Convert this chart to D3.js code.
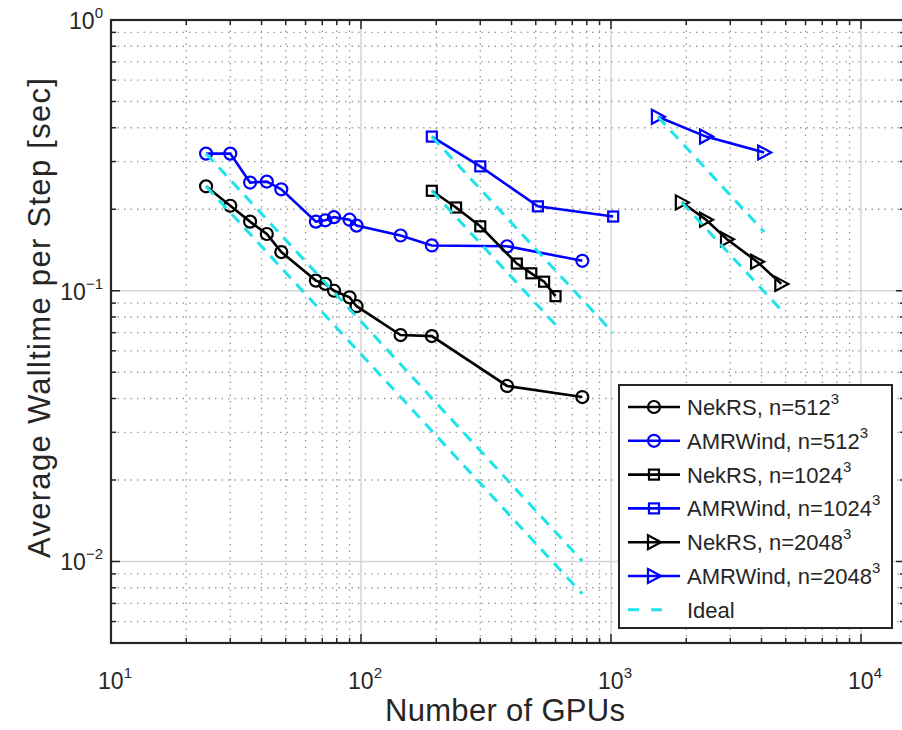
<!DOCTYPE html>
<html>
<head>
<meta charset="utf-8">
<script src="https://cdn.jsdelivr.net/npm/d3@7"></script>
<style>
  body { margin: 0; background: #fff; }
  text { font-family: "Liberation Sans", Arial, Helvetica, sans-serif; fill: #262626; }
</style>
</head>
<body>
<svg id="chart"></svg>
<script>
// Data
const nek512Gpus = [24, 30, 36, 42, 48, 66, 72, 78, 90, 96, 144, 192, 384, 768];
const nek512Time = [0.243, 0.206, 0.180, 0.162, 0.139, 0.109, 0.106, 0.100, 0.0946, 0.0877, 0.0686, 0.068, 0.0445, 0.0405];
const amr512Gpus = [24, 30, 36, 42, 48, 66, 72, 78, 90, 96, 144, 192, 384, 768];
const amr512Time = [0.321, 0.321, 0.251, 0.253, 0.237, 0.180, 0.182, 0.187, 0.183, 0.174, 0.160, 0.147, 0.146, 0.129];
const nek1024Gpus = [192, 240, 300, 420, 480, 540, 600];
const nek1024Time = [0.234, 0.203, 0.173, 0.126, 0.116, 0.108, 0.0955];
const amr1024Gpus = [192, 300, 510, 1020];
const amr1024Time = [0.371, 0.288, 0.205, 0.188];
const nek2048Gpus = [1920, 2400, 2910, 3840, 4800];
const nek2048Time = [0.212, 0.183, 0.155, 0.128, 0.106];
const amr2048Gpus = [1540, 2400, 4100];
const amr2048Time = [0.439, 0.371, 0.324];

const legendLabels = ["NekRS, n=512", "AMRWind, n=512", "NekRS, n=1024", "AMRWind, n=1024", "NekRS, n=2048", "AMRWind, n=2048", "Ideal"];

const width = 902, height = 730;
const margin = { top: 20, left: 111, bottom: 643 };

const series = [
    { x: nek512Gpus, y: nek512Time, color: "#000000", marker: "circle" },
    { x: amr512Gpus, y: amr512Time, color: "#0000ff", marker: "circle" },
    { x: nek1024Gpus, y: nek1024Time, color: "#000000", marker: "square" },
    { x: amr1024Gpus, y: amr1024Time, color: "#0000ff", marker: "square" },
    { x: nek2048Gpus, y: nek2048Time, color: "#000000", marker: "triangle" },
    { x: amr2048Gpus, y: amr2048Time, color: "#0000ff", marker: "triangle" }
];
const idealColor = "#1ee3ea";

// Scales
const xScale = d3.scaleLog().domain([10, 15000]).range([margin.left, margin.left + 250 * Math.log10(1500)]);
const yScale = d3.scaleLog().domain([0.005, 1]).range([margin.bottom, margin.top]);
const x0 = xScale.range()[0], x1 = xScale.range()[1];
const y0 = yScale.range()[0], y1 = yScale.range()[1];

const svg = d3.select("#chart").attr("width", width).attr("height", height);

// tick values
const xMajor = [10, 100, 1000, 10000];
const xMinor = [];
[10, 100, 1000, 10000].forEach(d => { for (let k = 2; k <= 9; k++) if (d * k <= 15000) xMinor.push(d * k); });
const yMajor = [0.01, 0.1, 1];
const yMinor = [];
[0.001, 0.01, 0.1].forEach(d => { for (let k = 2; k <= 9; k++) if (d * k >= 0.005 && d * k < 1) yMinor.push(d * k); });

// Grid
const grid = svg.append("g");
grid.selectAll(".xminor").data(xMinor).enter().append("line")
    .attr("x1", d => xScale(d)).attr("x2", d => xScale(d))
    .attr("y1", y0).attr("y2", y1)
    .attr("stroke", "#9a9a9a").attr("stroke-width", 1.3).attr("stroke-dasharray", "1.5,5");
grid.selectAll(".yminor").data(yMinor).enter().append("line")
    .attr("x1", x0).attr("x2", x1)
    .attr("y1", d => yScale(d)).attr("y2", d => yScale(d))
    .attr("stroke", "#9a9a9a").attr("stroke-width", 1.3).attr("stroke-dasharray", "1.5,5");
grid.selectAll(".xmajor").data(xMajor.slice(1)).enter().append("line")
    .attr("x1", d => xScale(d)).attr("x2", d => xScale(d))
    .attr("y1", y0).attr("y2", y1)
    .attr("stroke", "#d4d4d4").attr("stroke-width", 1.5);
grid.selectAll(".ymajor").data(yMajor.slice(0, 2)).enter().append("line")
    .attr("x1", x0).attr("x2", x1)
    .attr("y1", d => yScale(d)).attr("y2", d => yScale(d))
    .attr("stroke", "#d4d4d4").attr("stroke-width", 1.5);

// Ticks (inward, on all four sides)
const ticks = svg.append("g").attr("stroke", "#262626").attr("stroke-width", 1.5);
xMajor.concat(xMinor).forEach(d => {
    const len = xMajor.includes(d) ? 9 : 5;
    ticks.append("line").attr("x1", xScale(d)).attr("x2", xScale(d)).attr("y1", y0).attr("y2", y0 - len);
    ticks.append("line").attr("x1", xScale(d)).attr("x2", xScale(d)).attr("y1", y1).attr("y2", y1 + len);
});
yMajor.concat(yMinor).forEach(d => {
    const len = yMajor.includes(d) ? 9 : 5;
    ticks.append("line").attr("y1", yScale(d)).attr("y2", yScale(d)).attr("x1", x0).attr("x2", x0 + len);
    ticks.append("line").attr("y1", yScale(d)).attr("y2", yScale(d)).attr("x1", x1).attr("x2", x1 - len);
});

// Box
svg.append("rect")
    .attr("x", x0).attr("y", y1)
    .attr("width", x1 - x0).attr("height", y0 - y1)
    .attr("fill", "none").attr("stroke", "#262626").attr("stroke-width", 2.2);

// Tick labels
function powLabel(sel, exp) {
    sel.append("tspan").text("10");
    sel.append("tspan").attr("dy", -11).style("font-size", "15px").text(exp);
}
xMajor.forEach(d => {
    const t = svg.append("text")
        .attr("x", xScale(d) + 4).attr("y", 689)
        .attr("text-anchor", "middle")
        .style("font-size", "23px");
    powLabel(t, String(Math.round(Math.log10(d))));
});
yMajor.forEach(d => {
    const e = Math.round(Math.log10(d));
    const t = svg.append("text")
        .attr("x", 103).attr("y", yScale(d) + 9)
        .attr("text-anchor", "end")
        .style("font-size", "23px");
    powLabel(t, e < 0 ? "\u2212" + (-e) : String(e));
});

// Axis labels
svg.append("text")
    .attr("x", 505).attr("y", 721)
    .attr("text-anchor", "middle")
    .style("font-size", "31px")
    .attr("textLength", 240)
    .text("Number of GPUs");
svg.append("text")
    .attr("transform", "rotate(-90)")
    .attr("x", -318).attr("y", 50)
    .attr("text-anchor", "middle")
    .style("font-size", "31px")
    .attr("textLength", 480)
    .text("Average Walltime per Step [sec]");

// Markers
function drawMarker(g, type, cx, cy, color) {
    if (type === "circle") {
        g.append("circle").attr("cx", cx).attr("cy", cy).attr("r", 6)
            .attr("fill", "none").attr("stroke", color).attr("stroke-width", 2.2);
    } else if (type === "square") {
        g.append("rect").attr("x", cx - 5).attr("y", cy - 5).attr("width", 10).attr("height", 10)
            .attr("fill", "none").attr("stroke", color).attr("stroke-width", 2.2);
    } else {
        g.append("path").attr("d", `M${cx - 6},${cy - 7}L${cx + 7},${cy}L${cx - 6},${cy + 7}Z`)
            .attr("fill", "none").attr("stroke", color).attr("stroke-width", 2.2);
    }
}

const line = d3.line().x(d => xScale(d[0])).y(d => yScale(d[1]));
const plot = svg.append("g");

series.forEach(s => {
    const pts = s.x.map((x, i) => [x, s.y[i]]);
    plot.append("path")
        .datum(pts)
        .attr("fill", "none")
        .attr("stroke", s.color)
        .attr("stroke-width", 2.6)
        .attr("d", line);
    pts.forEach(p => drawMarker(plot, s.marker, xScale(p[0]), yScale(p[1]), s.color));
});

// Ideal scaling lines from each series' first point
series.forEach(s => {
    const xa = s.x[0], ya = s.y[0], xb = s.x[s.x.length - 1];
    plot.append("path")
        .datum([[xa, ya], [xb, ya * xa / xb]])
        .attr("fill", "none")
        .attr("stroke", idealColor)
        .attr("stroke-width", 3)
        .attr("stroke-dasharray", "11,8")
        .attr("d", line);
});

// Legend
const legend = svg.append("g");
legend.append("rect")
    .attr("x", 619).attr("y", 385).attr("width", 273).attr("height", 243)
    .attr("fill", "#fff").attr("stroke", "#262626").attr("stroke-width", 2);
legendLabels.forEach((label, i) => {
    const cy = 407 + i * 33.8;
    if (i < series.length) {
        const s = series[i];
        legend.append("line").attr("x1", 628).attr("x2", 680).attr("y1", cy).attr("y2", cy)
            .attr("stroke", s.color).attr("stroke-width", 2.6);
        drawMarker(legend, s.marker, 654, cy, s.color);
    } else {
        legend.append("line").attr("x1", 628).attr("x2", 670).attr("y1", cy).attr("y2", cy)
            .attr("stroke", idealColor).attr("stroke-width", 3).attr("stroke-dasharray", "11,12");
    }
    const t = legend.append("text").attr("x", 687).attr("y", cy + 8).style("font-size", "22px");
    t.append("tspan").text(label);
    if (i < series.length) t.append("tspan").attr("dy", -11).style("font-size", "15px").text("3");
});
</script>
</body>
</html>
